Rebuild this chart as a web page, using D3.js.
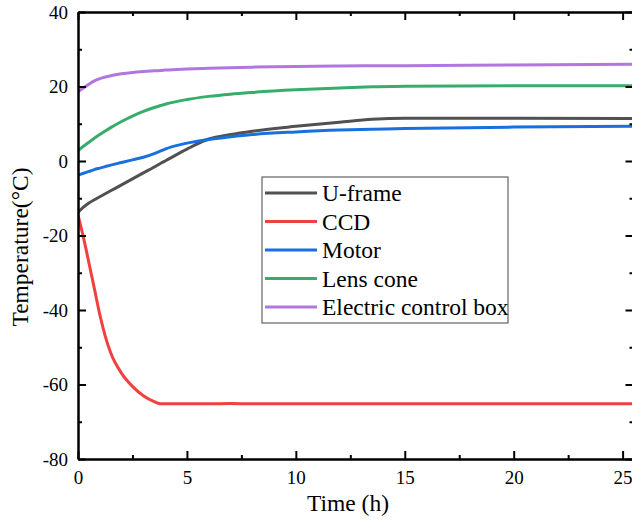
<!DOCTYPE html>
<html>
<head>
<meta charset="utf-8">
<script src="https://cdn.jsdelivr.net/npm/d3@7"></script>
<style>
  body { margin: 0; background: #fff; }
</style>
</head>
<body>
<svg id="canvas" width="632" height="520"></svg>
<script>
let hours = [0, 0.25, 0.5, 0.75, 1, 1.25, 1.5, 2, 2.5, 3, 3.5, 3.8, 4, 5, 6, 7, 8, 10, 12, 13.5, 15, 20, 25.5]

let uFrame = [-13.8, -12.4, -11.3, -10.4, -9.6, -8.8, -8.0, -6.4, -4.8, -3.2, -1.6, -0.6, 0.0, 3.2, 5.9, 7.1, 8.0, 9.3, 10.4, 11.2, 11.5, 11.5, 11.4]
let ccd = [-14.5, -20.5, -27.3, -34.2, -41.2, -47.0, -51.5, -57.0, -60.5, -63.0, -64.6, -65.2, -65.2, -65.2, -65.2, -65.1, -65.2, -65.2, -65.2, -65.2, -65.2, -65.2, -65.2]
let motor = [-3.8, -3.3, -2.8, -2.3, -1.9, -1.5, -1.1, -0.4, 0.3, 1.0, 2.0, 2.7, 3.2, 4.8, 5.8, 6.5, 7.1, 7.8, 8.3, 8.5, 8.7, 9.1, 9.3]
let lensCone = [2.8, 3.95, 5.05, 6.1, 7.1, 8.05, 8.95, 10.6, 12.05, 13.3, 14.35, 14.9, 15.25, 16.5, 17.35, 17.95, 18.4, 19.1, 19.6, 19.9, 20.1, 20.2, 20.2]
let controlBox = [18.6, 19.6, 20.6, 21.5, 22.1, 22.55, 22.9, 23.4, 23.75, 24.0, 24.2, 24.3, 24.4, 24.7, 24.9, 25.05, 25.2, 25.4, 25.5, 25.55, 25.6, 25.8, 26.0]

let seriesNames = ['U-frame', 'CCD', 'Motor', 'Lens cone', 'Electric control box']
let seriesColors = ['#515151', '#F14040', '#1A6FDF', '#37AD6B', '#B177DE']
let seriesValues = [uFrame, ccd, motor, lensCone, controlBox]

let xTicks = [0, 5, 10, 15, 20, 25]
let xMinor = [2.5, 7.5, 12.5, 17.5, 22.5]
let yTicks = [-80, -60, -40, -20, 0, 20, 40]
let yMinor = [-70, -50, -30, -10, 10, 30]

let serif = '"Liberation Serif", "Times New Roman", serif'
let plotLeft = 78, plotRight = 633.5, plotTop = 12, plotBottom = 459

let canvas = d3.select('#canvas')

let x = d3.scaleLinear().domain([0, 25.5]).range([plotLeft, plotRight])
let y = d3.scaleLinear().domain([-80, 40]).range([plotBottom, plotTop])

canvas.append('clipPath').attr('id', 'plotClip')
    .append('rect')
    .attr('x', plotLeft).attr('y', plotTop)
    .attr('width', plotRight - plotLeft).attr('height', plotBottom - plotTop)

let line = d3.line()
    .x((d) => x(d[0]))
    .y((d) => y(d[1]))
    .curve(d3.curveMonotoneX)

let lines = canvas.append('g').attr('clip-path', 'url(#plotClip)')
seriesValues.forEach((vals, i) => {
    lines.append('path')
        .datum(hours.map((h, j) => [h, vals[j]]))
        .attr('d', line)
        .attr('fill', 'none')
        .attr('stroke', seriesColors[i])
        .attr('stroke-width', 3)
        .attr('stroke-linejoin', 'round')
})

// axes, ticks pointing inward
let styleAxis = (g) => {
    g.attr('font-family', serif)
    g.select('.domain').attr('stroke', '#000').attr('stroke-width', 2)
    g.selectAll('.tick line').attr('stroke', '#000').attr('stroke-width', 2)
    g.selectAll('.tick text')
        .style('font-family', serif)
        .style('font-size', '19px')
        .attr('fill', '#000')
}
let plain = (d) => String(d)

canvas.append('g').attr('transform', `translate(0,${plotBottom})`)
    .call(d3.axisBottom(x).tickValues(xTicks).tickSize(-8).tickSizeOuter(0).tickPadding(12).tickFormat(plain))
    .call(styleAxis)
canvas.append('g').attr('transform', `translate(0,${plotBottom})`)
    .call(d3.axisBottom(x).tickValues(xMinor).tickSize(-4).tickSizeOuter(0).tickFormat(''))
    .call(styleAxis)
canvas.append('g').attr('transform', `translate(0,${plotTop})`)
    .call(d3.axisTop(x).tickValues(xTicks).tickSize(-8).tickSizeOuter(0).tickFormat(''))
    .call(styleAxis)
canvas.append('g').attr('transform', `translate(0,${plotTop})`)
    .call(d3.axisTop(x).tickValues(xMinor).tickSize(-4).tickSizeOuter(0).tickFormat(''))
    .call(styleAxis)

canvas.append('g').attr('transform', `translate(${plotLeft},0)`)
    .call(d3.axisLeft(y).tickValues(yTicks).tickSize(-8).tickSizeOuter(0).tickPadding(10).tickFormat(plain))
    .call(styleAxis)
canvas.append('g').attr('transform', `translate(${plotLeft},0)`)
    .call(d3.axisLeft(y).tickValues(yMinor).tickSize(-4).tickSizeOuter(0).tickFormat(''))
    .call(styleAxis)
canvas.append('g').attr('transform', `translate(${plotRight},0)`)
    .call(d3.axisRight(y).tickValues(yTicks).tickSize(-8).tickSizeOuter(0).tickFormat(''))
    .call(styleAxis)
canvas.append('g').attr('transform', `translate(${plotRight},0)`)
    .call(d3.axisRight(y).tickValues(yMinor).tickSize(-4).tickSizeOuter(0).tickFormat(''))
    .call(styleAxis)

// axis titles
canvas.append('text')
    .attr('x', 348).attr('y', 511)
    .attr('text-anchor', 'middle')
    .style('font-family', serif)
    .style('font-size', '23.5px')
    .text('Time (h)')

canvas.append('text')
    .attr('transform', 'translate(28,247) rotate(-90)')
    .attr('text-anchor', 'middle')
    .style('font-family', serif)
    .style('font-size', '23.5px')
    .text('Temperature(°C)')

// legend
let legend = canvas.append('g')
legend.append('rect')
    .attr('x', 262).attr('y', 177)
    .attr('width', 246).attr('height', 146)
    .attr('fill', '#fff')
    .attr('stroke', '#444')
    .attr('stroke-width', 1)

seriesNames.forEach((name, i) => {
    let ly = 193 + i * 28.5
    legend.append('line')
        .attr('x1', 265).attr('x2', 317)
        .attr('y1', ly).attr('y2', ly)
        .attr('stroke', seriesColors[i])
        .attr('stroke-width', 3)
    legend.append('text')
        .attr('x', 322).attr('y', ly)
        .attr('dy', '0.35em')
        .style('font-family', serif)
        .style('font-size', '23.5px')
        .text(name)
})
</script>
</body>
</html>
